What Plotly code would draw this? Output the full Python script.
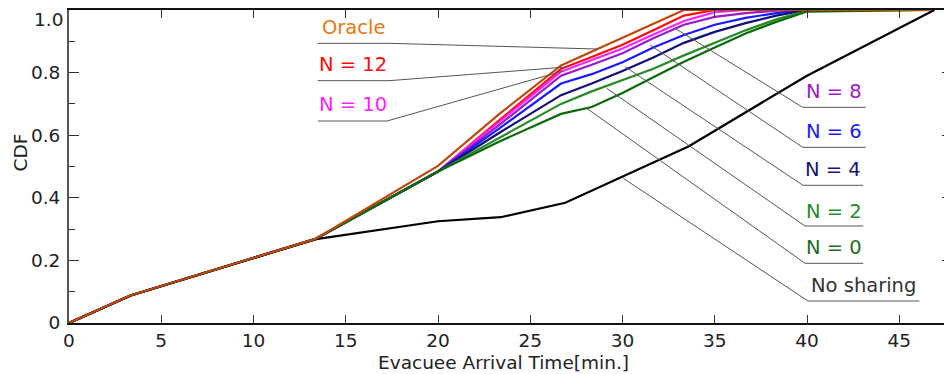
import plotly.graph_objects as go

# ---------------- data ----------------
time_grid = [0, 3.33, 13.33, 20, 23.33, 26.67, 28.33, 30, 31.67, 33.33, 35, 36.67, 38.33, 40, 46.67]

oracle_x = [0, 3.33, 13.33, 20, 23.33, 26.67, 33.33, 46.67]
oracle_y = [0, 0.088, 0.268, 0.502, 0.668, 0.823, 1.0, 1.0]

n12_y = [0, 0.088, 0.268, 0.484, 0.648, 0.812, 0.850, 0.889, 0.935, 0.982, 1.0, 1.0, 1.0, 1.0, 1.0]
n10_y = [0, 0.088, 0.268, 0.484, 0.643, 0.803, 0.840, 0.877, 0.922, 0.965, 0.993, 1.0, 1.0, 1.0, 1.0]
n8_y = [0, 0.088, 0.268, 0.484, 0.633, 0.790, 0.825, 0.862, 0.910, 0.953, 0.978, 0.990, 0.998, 1.0, 1.0]
n6_y = [0, 0.088, 0.268, 0.484, 0.622, 0.765, 0.795, 0.833, 0.880, 0.920, 0.953, 0.975, 0.990, 1.0, 1.0]
n4_y = [0, 0.088, 0.268, 0.484, 0.608, 0.728, 0.765, 0.805, 0.848, 0.895, 0.930, 0.958, 0.982, 1.0, 1.0]
n2_y = [0, 0.088, 0.268, 0.484, 0.590, 0.700, 0.740, 0.775, 0.812, 0.855, 0.895, 0.935, 0.970, 0.997, 1.0]
n0_y = [0, 0.088, 0.268, 0.484, 0.580, 0.668, 0.690, 0.735, 0.785, 0.835, 0.880, 0.925, 0.962, 0.995, 1.0]

nosharing_x = [0, 3.36, 13.4, 20, 23.4, 26.9, 33.6, 40, 46.9]
nosharing_y = [0, 0.088, 0.268, 0.325, 0.338, 0.384, 0.565, 0.790, 1.0]

x_ticks = [0, 5, 10, 15, 20, 25, 30, 35, 40, 45]
x_ticklabels = ["0", "5", "10", "15", "20", "25", "30", "35", "40", "45"]
y_ticks = [0, 0.2, 0.4, 0.6, 0.8, 1.0]
y_ticklabels = ["0", "0.2", "0.4", "0.6", "0.8", ""]
y_top_label = "1.0"

# ---------------- layout constants ----------------
PAGE_OFF = 8                      # default body margin of the html page
W, H = 952 - PAGE_OFF, 374 - PAGE_OFF
REF_LEFT, REF_TOP, REF_BOTTOM = 69, 10, 323   # plot area in window pixels
ML = REF_LEFT - PAGE_OFF
MT = REF_TOP - PAGE_OFF
MB = H - (REF_BOTTOM - PAGE_OFF)
MR = 0
PLOT_W = W - ML - MR
PLOT_H = H - MT - MB
PX_PER_MIN = 18.45
X_MAX = PLOT_W / PX_PER_MIN
Y_MAX = 1.0

FONT = "DejaVu Sans, sans-serif"
FS = 19.5
FS_TICK = 18.5


def px2x(px):
    return (px - REF_LEFT) / PX_PER_MIN


def py2y(py):
    return (REF_BOTTOM - py) / PLOT_H * Y_MAX


def px2paper(px):
    return (px - REF_LEFT) / PLOT_W


def py2paper(py):
    return (REF_BOTTOM - py) / PLOT_H


fig = go.Figure()

series = [
    ("N = 12", time_grid, n12_y, "#ff0a0a"),
    ("N = 10", time_grid, n10_y, "#ff22ff"),
    ("N = 8", time_grid, n8_y, "#9a1ad0"),
    ("N = 6", time_grid, n6_y, "#1a1aff"),
    ("N = 4", time_grid, n4_y, "#10107a"),
    ("N = 2", time_grid, n2_y, "#2a8a2a"),
    ("N = 0", time_grid, n0_y, "#0a6a0a"),
    ("No sharing", nosharing_x, nosharing_y, "#000000"),
    ("Oracle", oracle_x, oracle_y, "#c0480c"),
]
for name, xs, ys, col in series:
    fig.add_trace(go.Scatter(x=xs, y=ys, mode="lines", name=name,
                             line=dict(color=col, width=2.2), showlegend=False))

# ---------------- labels with underline + leader line ----------------
labels = [
    ("Oracle", "#e8780e", (353, 27.5), 43.3, (317.7, 389), (596.7, 49), "right"),
    ("N = 12", "#ff0a0a", (352.5, 64), 80.7, (317.7, 389), (566.7, 67), "right"),
    ("N = 10", "#ff1aff", (352.5, 104.5), 121, (318, 387), (563, 71), "right"),
    ("N = 8", "#9a1ad0", (834, 91), 107.3, (802.7, 865.7), (675, 28.3), "left"),
    ("N = 6", "#1a1aff", (834, 131), 147.3, (802.7, 865.7), (650, 45), "left"),
    ("N = 4", "#14147a", (833, 169), 185.3, (803, 863), (625, 66.7), "left"),
    ("N = 2", "#2a8a2a", (834, 211), 226, (805, 863.3), (606.7, 88.3), "left"),
    ("N = 0", "#1e6e1e", (834, 247), 263.3, (805, 863.3), (586.7, 108.3), "left"),
    ("No sharing", "#333333", (863.5, 285), 301, (808, 919.3), (623.3, 178.3), "left"),
]
for text, col, (cx, cy), uy, (ux0, ux1), (ex, ey), side in labels:
    fig.add_annotation(x=px2x(cx), y=py2y(cy), xref="x", yref="y", text=text,
                       showarrow=False, font=dict(family=FONT, size=FS, color=col),
                       xanchor="center", yanchor="middle")
    fig.add_shape(type="line", xref="x", yref="y",
                  x0=px2x(ux0), x1=px2x(ux1), y0=py2y(uy), y1=py2y(uy),
                  line=dict(color="#555555", width=1))
    sx = ux1 if side == "right" else ux0
    fig.add_shape(type="line", xref="x", yref="y",
                  x0=px2x(sx), y0=py2y(uy), x1=px2x(ex), y1=py2y(ey),
                  line=dict(color="#555555", width=1))

# top y tick label (sits just below the top edge)
fig.add_annotation(x=px2paper(65), y=py2paper(19.5), xref="paper", yref="paper",
                   text=y_top_label, showarrow=False,
                   font=dict(family=FONT, size=FS_TICK, color="#222222"),
                   xanchor="right", yanchor="middle")

# axis titles
fig.add_annotation(x=px2paper(503), y=py2paper(362.5), xref="paper", yref="paper",
                   text="Evacuee Arrival Time[min.]", showarrow=False,
                   font=dict(family=FONT, size=FS_TICK, color="#222222"),
                   xanchor="center", yanchor="middle")
fig.add_annotation(x=px2paper(20), y=py2paper(152.5), xref="paper", yref="paper",
                   text="CDF", showarrow=False, textangle=-90,
                   font=dict(family=FONT, size=FS_TICK, color="#222222"),
                   xanchor="center", yanchor="middle")

fig.update_layout(
    width=W, height=H,
    margin=dict(l=ML, r=MR, t=MT, b=MB, pad=0, autoexpand=False),
    plot_bgcolor="white", paper_bgcolor="white",
    font=dict(family=FONT, size=FS, color="#222222"),
    xaxis=dict(range=[0, X_MAX], tickvals=x_ticks, ticktext=x_ticklabels,
               ticks="inside", ticklen=8, tickwidth=1.2, tickcolor="#333333",
               showline=True, linecolor="#111111", linewidth=1.5, mirror="ticks",
               showgrid=False, zeroline=False, ticklabelstandoff=0, automargin=False,
               tickfont=dict(family=FONT, size=FS_TICK, color="#222222")),
    yaxis=dict(range=[0, Y_MAX], tickvals=y_ticks, ticktext=y_ticklabels,
               ticks="inside", ticklen=10, tickwidth=1.2, tickcolor="#333333",
               minor=dict(ticks="inside", ticklen=6, dtick=0.1, tickcolor="#333333", tickwidth=1.2),
               showline=True, linecolor="#555555", linewidth=2, mirror="ticks",
               showgrid=False, zeroline=False, ticklabelstandoff=3, automargin=False,
               tickfont=dict(family=FONT, size=FS_TICK, color="#222222")),
)

fig.write_html("out.html")
